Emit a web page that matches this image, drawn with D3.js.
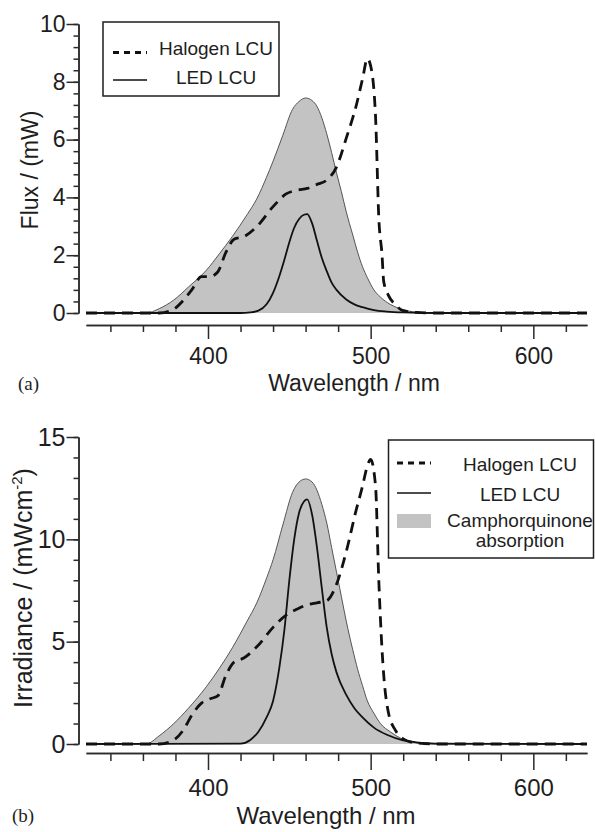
<!DOCTYPE html>
<html>
<head>
<meta charset="utf-8">
<script src="https://d3js.org/d3.v7.min.js"></script>
<style>
  body { margin: 0; background: #fff; }
  svg text { font-family: "Liberation Sans", Arial, sans-serif; fill: #1e1e1e; }
</style>
</head>
<body>
<div id="chart"></div>
<script>
// Halogen LCU emission (top: flux in mW, bottom: irradiance in mW/cm2)
const halogenWl   = [325, 370, 378, 385, 390, 396, 401, 406, 411, 416, 422, 430, 440, 448, 455, 461, 467, 473, 479, 485, 491, 495, 498, 500, 503, 505, 507, 508, 511, 515, 520, 528, 540, 633];
const halogenFlux = [0, 0, 0.1, 0.45, 0.8, 1.26, 1.26, 1.42, 2.1, 2.55, 2.64, 2.99, 3.68, 4.12, 4.25, 4.31, 4.45, 4.6, 5.05, 6.05, 7.15, 8.1, 8.8, 8.55, 6.8, 3.3, 2.0, 1.1, 0.6, 0.3, 0.08, 0.02, 0, 0];
const halogenIrr  = [0, 0, 0.15, 0.7, 1.4, 2.0, 2.2, 2.35, 3.35, 4.0, 4.2, 4.75, 5.7, 6.3, 6.6, 6.8, 6.9, 7.0, 7.8, 9.4, 11.4, 12.6, 13.6, 13.9, 12.6, 8.0, 4.6, 3.4, 1.5, 0.7, 0.25, 0.05, 0, 0];

// LED LCU emission
const ledWl   = [325, 420, 426, 431, 436, 440, 444, 447, 450, 453, 456, 459, 461, 464, 467, 470, 473, 476, 479, 485, 490, 495, 502, 510, 520, 540, 633];
const ledFlux = [0, 0, 0.02, 0.08, 0.3, 0.7, 1.3, 1.85, 2.45, 2.95, 3.25, 3.4, 3.42, 3.1, 2.5, 1.9, 1.45, 1.05, 0.8, 0.47, 0.3, 0.2, 0.1, 0.05, 0.02, 0, 0];
const ledIrr  = [0, 0.02, 0.2, 0.6, 1.3, 2.1, 3.8, 5.6, 8.0, 10.0, 11.3, 11.85, 11.95, 11.2, 9.6, 7.6, 5.7, 4.4, 3.5, 2.4, 1.75, 1.3, 0.8, 0.45, 0.18, 0.02, 0];

// Camphorquinone absorption (scaled to each panel)
const cqWl   = [325, 362, 370, 379, 388, 399, 407, 415, 424, 430, 436, 440, 446, 452, 456, 460, 464, 467, 470, 473, 476, 479, 482, 485, 489, 492, 495, 498, 502, 506, 512, 518, 528, 540, 633];
const cqFlux = [0, 0, 0.15, 0.45, 0.9, 1.48, 2.05, 2.65, 3.4, 3.95, 4.7, 5.25, 6.15, 7.05, 7.32, 7.44, 7.35, 7.15, 6.75, 6.2, 5.55, 4.85, 4.2, 3.5, 2.7, 2.1, 1.6, 1.22, 0.8, 0.55, 0.3, 0.15, 0.03, 0, 0];
const cqIrr  = [0, 0, 0.4, 1.0, 1.75, 2.8, 3.7, 4.7, 6.0, 6.9, 8.1, 9.0, 10.7, 12.3, 12.8, 12.95, 12.8, 12.4, 11.7, 10.8, 9.6, 8.4, 7.2, 6.0, 4.6, 3.65, 2.85, 2.1, 1.5, 1.0, 0.6, 0.3, 0.06, 0, 0];

// axis ticks
const xMajor = [400, 500, 600];
const xMinor = [340, 360, 380, 420, 440, 460, 480, 520, 540, 560, 580, 620];
const fluxTicks = [0, 2, 4, 6, 8, 10];
const irrTicks = [0, 5, 10, 15];

const svg = d3.select("#chart").append("svg")
    .attr("width", 595)
    .attr("height", 832);

const x = d3.scaleLinear().domain([325, 633]).range([86, 587]);

function styleAxis(sel, fs) {
    sel.select(".domain").attr("stroke", "#2a2a2a").attr("stroke-width", 1.5);
    sel.selectAll(".tick line").attr("stroke", "#2a2a2a").attr("stroke-width", 1.5);
    sel.selectAll(".tick text").attr("font-size", fs).attr("fill", "#1e1e1e");
}

function drawPanel(p) {
    const y = d3.scaleLinear().domain([0, p.yMax]).range([p.y0, p.yTop]);
    const g = svg.append("g");

    const line = d3.line().x(d => x(d[0])).y(d => y(d[1])).curve(d3.curveMonotoneX);
    const area = d3.area().x(d => x(d[0])).y0(y(0)).y1(d => y(d[1])).curve(d3.curveMonotoneX);

    const cq = cqWl.map((w, i) => [w, p.cq[i]]);
    const led = ledWl.map((w, i) => [w, p.led[i]]);
    const hal = halogenWl.map((w, i) => [w, p.hal[i]]);

    // absorption band
    g.append("path").datum(cq).attr("d", area).attr("fill", "#c3c3c3");
    g.append("path").datum(cq).attr("d", line)
        .attr("fill", "none").attr("stroke", "#555").attr("stroke-width", 1);

    // LED
    g.append("path").datum(led).attr("d", line)
        .attr("fill", "none").attr("stroke", "#111").attr("stroke-width", 1.8);

    // Halogen
    g.append("path").datum(hal).attr("d", line)
        .attr("fill", "none").attr("stroke", "#111").attr("stroke-width", 2.8)
        .attr("stroke-dasharray", "11,7");

    // y axis
    const yMinor = d3.range(0, p.yMax + 0.001, p.yMinorStep);
    const ya2 = g.append("g").attr("transform", "translate(78.5,0)")
        .call(d3.axisLeft(y).tickValues(yMinor).tickSize(5).tickSizeOuter(0).tickFormat(""));
    styleAxis(ya2, p.fs);
    const ya = g.append("g").attr("transform", "translate(78.5,0)")
        .call(d3.axisLeft(y).tickValues(p.yTicks).tickSize(12).tickPadding(1).tickSizeOuter(0).tickFormat(d3.format("d")));
    styleAxis(ya, p.fs);

    // x axis (offset below the plot)
    const xa2 = g.append("g").attr("transform", `translate(0,${p.axisY})`)
        .call(d3.axisBottom(x).tickValues(xMinor).tickSize(p.minorLen).tickSizeOuter(0).tickFormat(""));
    styleAxis(xa2, p.fs);
    const xa = g.append("g").attr("transform", `translate(0,${p.axisY})`)
        .call(d3.axisBottom(x).tickValues(xMajor).tickSize(p.majorLen).tickPadding(p.pad).tickSizeOuter(0));
    styleAxis(xa, p.xfs);

    // axis titles
    g.append("text")
        .attr("x", p.xLabelX).attr("y", p.xLabelY)
        .attr("text-anchor", "middle")
        .attr("font-size", p.xfs)
        .text("Wavelength / nm");

    const yl = g.append("text")
        .attr("transform", `translate(${p.yLabelX},${p.yLabelY}) rotate(-90)`)
        .attr("text-anchor", "middle")
        .attr("font-size", p.fs);
    p.yLabel(yl);

    g.append("text")
        .attr("x", p.tagX).attr("y", p.tagY)
        .attr("font-size", 19)
        .style("font-family", "'Liberation Serif', 'Times New Roman', serif")
        .text(p.tag);
}

drawPanel({
    cq: cqFlux, led: ledFlux, hal: halogenFlux,
    yMax: 10, y0: 313, yTop: 24, yTicks: fluxTicks, yMinorStep: 0.4,
    axisY: 325, majorLen: 14, minorLen: 7, pad: 9, fs: 23, xfs: 23,
    xLabelX: 354, xLabelY: 391,
    yLabelX: 38, yLabelY: 170,
    yLabel: t => t.text("Flux / (mW)"),
    tag: "(a)", tagX: 18, tagY: 390
});

drawPanel({
    cq: cqIrr, led: ledIrr, hal: halogenIrr,
    yMax: 15, y0: 744, yTop: 437, yTicks: irrTicks, yMinorStep: 1,
    axisY: 753, majorLen: 17, minorLen: 8, pad: 9, fs: 25, xfs: 24,
    xLabelX: 326, xLabelY: 824,
    yLabelX: 32, yLabelY: 588,
    yLabel: t => {
        t.append("tspan").text("Irradiance / (mWcm");
        t.append("tspan").attr("font-size", 15).attr("dy", -10).text("-2");
        t.append("tspan").attr("dy", 10).text(")");
    },
    tag: "(b)", tagX: 12, tagY: 822
});

// legends
const legendA = svg.append("g");
legendA.append("rect").attr("x", 103).attr("y", 22).attr("width", 176).attr("height", 74)
    .attr("fill", "#fff").attr("stroke", "#1e1e1e").attr("stroke-width", 1.5);
legendA.append("line").attr("x1", 113).attr("x2", 147).attr("y1", 52.5).attr("y2", 52.5)
    .attr("stroke", "#111").attr("stroke-width", 2.8).attr("stroke-dasharray", "6,5");
legendA.append("line").attr("x1", 113).attr("x2", 147).attr("y1", 80).attr("y2", 80)
    .attr("stroke", "#111").attr("stroke-width", 1.6);
legendA.append("text").attr("x", 216).attr("y", 55).attr("text-anchor", "middle").attr("font-size", 19).text("Halogen LCU");
legendA.append("text").attr("x", 216).attr("y", 84).attr("text-anchor", "middle").attr("font-size", 19).text("LED LCU");

const legendB = svg.append("g");
legendB.append("rect").attr("x", 388.5).attr("y", 440).attr("width", 205).attr("height", 118)
    .attr("fill", "#fff").attr("stroke", "#1e1e1e").attr("stroke-width", 1.5);
legendB.append("line").attr("x1", 397).attr("x2", 431).attr("y1", 463).attr("y2", 463)
    .attr("stroke", "#111").attr("stroke-width", 2.8).attr("stroke-dasharray", "6,5");
legendB.append("line").attr("x1", 397).attr("x2", 431).attr("y1", 493).attr("y2", 493)
    .attr("stroke", "#111").attr("stroke-width", 1.6);
legendB.append("rect").attr("x", 397).attr("y", 514).attr("width", 34).attr("height", 14).attr("fill", "#c3c3c3");
legendB.append("text").attr("x", 520).attr("y", 471).attr("text-anchor", "middle").attr("font-size", 19).text("Halogen LCU");
legendB.append("text").attr("x", 520).attr("y", 501).attr("text-anchor", "middle").attr("font-size", 19).text("LED LCU");
legendB.append("text").attr("x", 520).attr("y", 527).attr("text-anchor", "middle").attr("font-size", 19).text("Camphorquinone");
legendB.append("text").attr("x", 520).attr("y", 547).attr("text-anchor", "middle").attr("font-size", 19).text("absorption");
</script>
</body>
</html>
